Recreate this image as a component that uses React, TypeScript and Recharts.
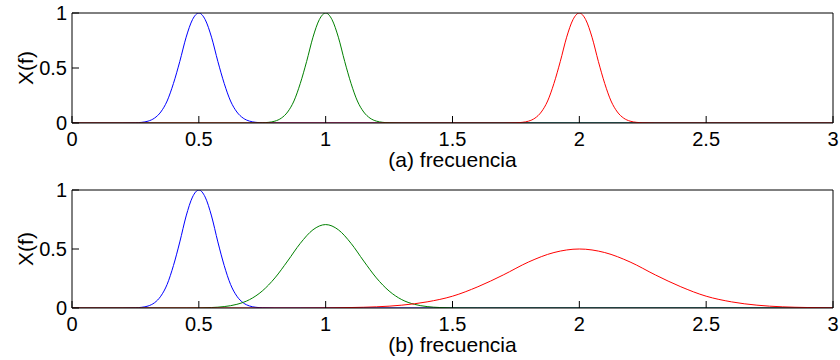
import React from 'react';
import { LineChart, Line, XAxis, YAxis } from 'recharts';

// ---------- data ----------
const freqTicks = [0, 0.5, 1, 1.5, 2, 2.5, 3];
const ampTicks = [0, 0.5, 1];

// panel (a)
const aBlueF = [0, 0.2, 0.25, 0.275, 0.3, 0.325, 0.35, 0.375, 0.4, 0.425, 0.45, 0.475, 0.5, 0.525, 0.55, 0.575, 0.6, 0.625, 0.65, 0.675, 0.7, 0.725, 0.75, 0.8, 3];
const aBlueY = [0, 0, 0.002, 0.006, 0.017, 0.044, 0.1, 0.2, 0.36, 0.56, 0.78, 0.94, 1, 0.94, 0.78, 0.56, 0.36, 0.2, 0.1, 0.044, 0.017, 0.006, 0.002, 0, 0];
const aGreenF = [0, 0.7, 0.75, 0.775, 0.8, 0.825, 0.85, 0.875, 0.9, 0.925, 0.95, 0.975, 1, 1.025, 1.05, 1.075, 1.1, 1.125, 1.15, 1.175, 1.2, 1.225, 1.25, 1.3, 3];
const aGreenY = [0, 0, 0.002, 0.006, 0.017, 0.044, 0.1, 0.2, 0.36, 0.56, 0.78, 0.94, 1, 0.94, 0.78, 0.56, 0.36, 0.2, 0.1, 0.044, 0.017, 0.006, 0.002, 0, 0];
const aRedF = [0, 1.7, 1.75, 1.775, 1.8, 1.825, 1.85, 1.875, 1.9, 1.925, 1.95, 1.975, 2, 2.025, 2.05, 2.075, 2.1, 2.125, 2.15, 2.175, 2.2, 2.225, 2.25, 2.3, 3];
const aRedY = [0, 0, 0.002, 0.006, 0.017, 0.044, 0.1, 0.2, 0.36, 0.56, 0.78, 0.94, 1, 0.94, 0.78, 0.56, 0.36, 0.2, 0.1, 0.044, 0.017, 0.006, 0.002, 0, 0];

// panel (b)
const bBlueF = [0, 0.2, 0.25, 0.275, 0.3, 0.325, 0.35, 0.375, 0.4, 0.425, 0.45, 0.475, 0.5, 0.525, 0.55, 0.575, 0.6, 0.625, 0.65, 0.675, 0.7, 0.725, 0.75, 0.8, 3];
const bBlueY = [0, 0, 0.002, 0.006, 0.017, 0.044, 0.1, 0.2, 0.36, 0.56, 0.78, 0.94, 1, 0.94, 0.78, 0.56, 0.36, 0.2, 0.1, 0.044, 0.017, 0.006, 0.002, 0, 0];
const bGreenF = [0, 0.45, 0.5, 0.55, 0.6, 0.65, 0.7, 0.75, 0.8, 0.85, 0.9, 0.95, 1, 1.05, 1.1, 1.15, 1.2, 1.25, 1.3, 1.35, 1.4, 1.45, 1.5, 1.6, 3];
const bGreenY = [0, 0, 0.001, 0.004, 0.012, 0.031, 0.071, 0.144, 0.255, 0.398, 0.548, 0.663, 0.707, 0.663, 0.548, 0.398, 0.255, 0.144, 0.071, 0.031, 0.012, 0.004, 0.001, 0, 0];
const bRedF = [0, 0.9, 1, 1.1, 1.2, 1.3, 1.4, 1.5, 1.6, 1.7, 1.8, 1.9, 2, 2.1, 2.2, 2.3, 2.4, 2.5, 2.6, 2.7, 2.8, 2.9, 3];
const bRedY = [0, 0, 0.001, 0.004, 0.01, 0.024, 0.052, 0.1, 0.18, 0.28, 0.39, 0.47, 0.5, 0.47, 0.39, 0.28, 0.18, 0.1, 0.052, 0.024, 0.01, 0.004, 0.001];

const toRows = (f: number[], y: number[]) => f.map((v, i) => ({ f: v, y: y[i] }));

// ---------- styling ----------
const FONT = '"Liberation Sans", Arial, Helvetica, sans-serif';
const BLUE = '#0000ff';
const GREEN = '#008000';
const RED = '#ff0000';
const AXIS = '#000000';

const YLabel = (props: any) => {
  const vb = props.viewBox || { x: 0, y: 0, width: 72, height: 110 };
  const cx = vb.x + 33;
  const cy = vb.y + vb.height / 2;
  return (
    <text
      x={cx}
      y={cy}
      transform={`rotate(-90, ${cx}, ${cy})`}
      textAnchor="middle"
      fontSize={21}
      fontFamily={FONT}
      fill="#000"
    >
      X(f)
    </text>
  );
};

type Series = { f: number[]; y: number[]; color: string };

interface PanelProps {
  top: number;
  marginTop: number;
  xAxisHeight: number;
  title: string;
  titleOffset: number;
  series: Series[];
}

const Panel = ({ top, marginTop, xAxisHeight, title, titleOffset, series }: PanelProps) => {
  const tickStyle = { fill: '#000', fontSize: 20, fontFamily: FONT };
  return (
    <div style={{ position: 'absolute', left: 0, top, width: 840, height: 180 }}>
      <LineChart width={840} height={180} margin={{ top: marginTop - 1, right: 6, left: 0, bottom: 0 }}>
        <XAxis
          xAxisId="bottom"
          dataKey="f"
          type="number"
          domain={[0, 3]}
          ticks={freqTicks}
          interval={0}
          height={xAxisHeight}
          tickSize={-7}
          tickMargin={16}
          tick={tickStyle}
          tickLine={{ stroke: AXIS }}
          axisLine={{ stroke: AXIS }}
          allowDataOverflow
          label={{ value: title, position: 'insideBottom', offset: titleOffset, fill: '#000', fontSize: 21, fontFamily: FONT }}
        />
        <XAxis
          xAxisId="top"
          orientation="top"
          dataKey="f"
          type="number"
          domain={[0, 3]}
          ticks={freqTicks}
          interval={0}
          height={1}
          tickSize={-7}
          tick={false}
          tickLine={{ stroke: AXIS }}
          axisLine={{ stroke: AXIS }}
          allowDataOverflow
        />
        <YAxis
          yAxisId="left"
          type="number"
          domain={[0, 1]}
          ticks={ampTicks}
          interval={0}
          width={72}
          tickSize={-7}
          tickMargin={12}
          tick={tickStyle}
          tickLine={{ stroke: AXIS }}
          axisLine={{ stroke: AXIS }}
          allowDataOverflow
          label={{ content: YLabel }}
        />
        <YAxis
          yAxisId="right"
          orientation="right"
          type="number"
          domain={[0, 1]}
          ticks={ampTicks}
          interval={0}
          width={1}
          tickSize={-7}
          tick={false}
          tickLine={{ stroke: AXIS }}
          axisLine={{ stroke: AXIS }}
          allowDataOverflow
        />
        {series.map((s, i) => (
          <Line
            key={i}
            xAxisId="bottom"
            yAxisId="left"
            data={toRows(s.f, s.y)}
            dataKey="y"
            type="monotone"
            stroke={s.color}
            strokeWidth={1}
            dot={false}
            activeDot={false}
            isAnimationActive={false}
          />
        ))}
      </LineChart>
    </div>
  );
};

export default function App() {
  return (
    <div style={{ position: 'absolute', left: 0, top: 0, width: 840, height: 360, background: '#fff' }}>
      <Panel
        top={0}
        marginTop={13}
        xAxisHeight={57}
        title="(a) frecuencia"
        titleOffset={13}
        series={[
          { f: aBlueF, y: aBlueY, color: BLUE },
          { f: aGreenF, y: aGreenY, color: GREEN },
          { f: aRedF, y: aRedY, color: RED },
        ]}
      />
      <Panel
        top={180}
        marginTop={10}
        xAxisHeight={52}
        title="(b) frecuencia"
        titleOffset={8}
        series={[
          { f: bBlueF, y: bBlueY, color: BLUE },
          { f: bGreenF, y: bGreenY, color: GREEN },
          { f: bRedF, y: bRedY, color: RED },
        ]}
      />
    </div>
  );
}
